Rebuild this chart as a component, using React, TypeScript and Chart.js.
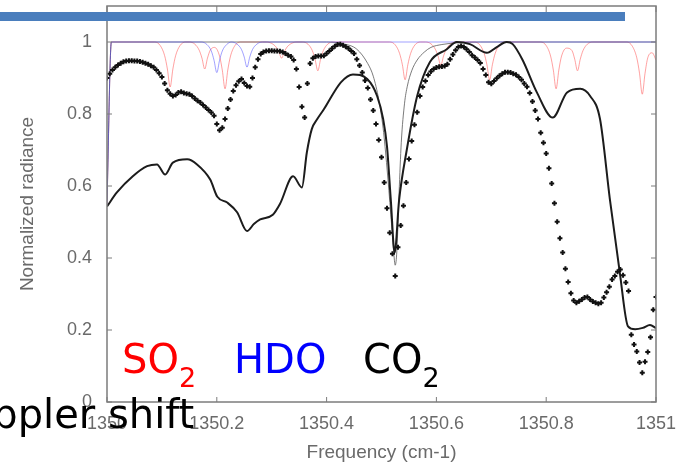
import React, { useEffect, useRef } from 'react';
import { Chart, registerables } from 'chart.js';

Chart.register(...registerables);

// Measured spectrum: one sample every 0.005 cm-1 from 1350.000 to 1351.000
const SAMPLE_START = 1350;
const SAMPLE_STEP = 0.005;
const measured = [
  0.900, 0.912, 0.922, 0.930, 0.936, 0.941, 0.945, 0.947, 0.948, 0.948,
  0.947, 0.947, 0.946, 0.944, 0.941, 0.938, 0.934, 0.930, 0.922, 0.913,
  0.903, 0.885, 0.866, 0.856, 0.850, 0.853, 0.860, 0.862, 0.858, 0.856,
  0.855, 0.850, 0.843, 0.837, 0.832, 0.825, 0.818, 0.811, 0.804, 0.795,
  0.772, 0.755, 0.762, 0.786, 0.815, 0.840, 0.864, 0.880, 0.891, 0.897,
  0.886, 0.878, 0.876, 0.900, 0.930, 0.952, 0.967, 0.972, 0.975, 0.976,
  0.976, 0.975, 0.975, 0.974, 0.972, 0.968, 0.963, 0.960, 0.950, 0.925,
  0.875, 0.820, 0.790, 0.885, 0.940, 0.955, 0.960, 0.961, 0.961, 0.962,
  0.968, 0.975, 0.982, 0.988, 0.993, 0.994, 0.991, 0.987, 0.982, 0.975,
  0.968, 0.952, 0.935, 0.915, 0.893, 0.872, 0.840, 0.810, 0.772, 0.728,
  0.680, 0.610, 0.538, 0.470, 0.412, 0.350, 0.430, 0.490, 0.545, 0.610,
  0.675, 0.725, 0.770, 0.805, 0.850, 0.875, 0.892, 0.908, 0.918, 0.925,
  0.929, 0.931, 0.932, 0.933, 0.938, 0.952, 0.965, 0.977, 0.986, 0.989,
  0.986, 0.980, 0.972, 0.963, 0.957, 0.950, 0.942, 0.925, 0.908, 0.888,
  0.884, 0.892, 0.899, 0.906, 0.912, 0.916, 0.916, 0.915, 0.912, 0.909,
  0.903, 0.895, 0.885, 0.876, 0.858, 0.835, 0.810, 0.786, 0.748, 0.720,
  0.690, 0.649, 0.607, 0.552, 0.501, 0.455, 0.415, 0.370, 0.333, 0.302,
  0.282, 0.276, 0.280, 0.285, 0.290, 0.292, 0.285, 0.279, 0.276, 0.273,
  0.276, 0.290, 0.305, 0.320, 0.340, 0.350, 0.362, 0.368, 0.352, 0.332,
  0.308, 0.187, 0.160, 0.140, 0.110, 0.081, 0.112, 0.139, 0.180, 0.256,
  0.292,
];

// Retrieved (fitted) radiance, thick solid curve
const fitFreq = [
  1350.000, 1350.018, 1350.047, 1350.073, 1350.091, 1350.106, 1350.120, 1350.146,
  1350.164, 1350.188, 1350.201, 1350.219, 1350.237, 1350.255, 1350.268, 1350.279,
  1350.302, 1350.315, 1350.339, 1350.355, 1350.364, 1350.373, 1350.383, 1350.395,
  1350.426, 1350.448, 1350.474, 1350.492, 1350.503, 1350.510, 1350.517, 1350.524,
  1350.532, 1350.546, 1350.565, 1350.588, 1350.619, 1350.637, 1350.661, 1350.692,
  1350.710, 1350.728, 1350.739, 1350.757, 1350.783, 1350.812, 1350.838, 1350.862,
  1350.880, 1350.898, 1350.916, 1350.934, 1350.949, 1350.962, 1350.976, 1350.989,
  1351.000,
];
const fitValue = [
  0.543, 0.582, 0.627, 0.655, 0.660, 0.632, 0.665, 0.674,
  0.660, 0.618, 0.570, 0.554, 0.527, 0.475, 0.495, 0.507,
  0.520, 0.550, 0.627, 0.596, 0.693, 0.758, 0.786, 0.813,
  0.888, 0.910, 0.897, 0.850, 0.786, 0.710, 0.560, 0.415,
  0.560, 0.700, 0.850, 0.944, 0.980, 1.000, 0.994, 0.970,
  0.986, 1.000, 0.994, 0.950, 0.860, 0.790, 0.860, 0.870,
  0.850, 0.786, 0.563, 0.360, 0.210, 0.202, 0.206, 0.214,
  0.205,
];

// CO2 transmittance, thin curve
const co2Freq = [
  1350.000, 1350.008, 1350.400, 1350.430, 1350.455, 1350.475, 1350.485, 1350.495,
  1350.503, 1350.510, 1350.517, 1350.522, 1350.525, 1350.528, 1350.532, 1350.536,
  1350.542, 1350.547, 1350.555, 1350.565, 1350.578, 1350.590, 1350.610, 1350.640,
  1350.680, 1351.000,
];
const co2Value = [
  0.560, 1.000, 1.000, 0.995, 0.980, 0.940, 0.905, 0.840,
  0.760, 0.650, 0.520, 0.420, 0.380, 0.420, 0.580, 0.720,
  0.830, 0.877, 0.920, 0.950, 0.972, 0.985, 0.993, 0.998,
  1.000, 1.000,
];

// HDO transmittance
const hdoFreq = [
  1350.000, 1350.008, 1350.172, 1350.182, 1350.190, 1350.195, 1350.200, 1350.205,
  1350.210, 1350.218, 1350.227, 1350.237, 1350.245, 1350.250, 1350.255, 1350.260,
  1350.265, 1350.273, 1350.283, 1351.000,
];
const hdoValue = [
  0.550, 1.000, 1.000, 0.993, 0.975, 0.949, 0.915, 0.949,
  0.975, 0.993, 1.000, 0.994, 0.979, 0.958, 0.930, 0.958,
  0.979, 0.994, 1.000, 1.000,
];

// SO2 transmittance
const so2Freq = [
  1350.000, 1350.008, 1350.087, 1350.097, 1350.105, 1350.110, 1350.115, 1350.120,
  1350.125, 1350.133, 1350.143, 1350.150, 1350.160, 1350.168, 1350.173, 1350.178,
  1350.183, 1350.188, 1350.196, 1350.205, 1350.210, 1350.215, 1350.220, 1350.225,
  1350.233, 1350.243, 1350.290, 1350.300, 1350.308, 1350.313, 1350.318, 1350.323,
  1350.328, 1350.336, 1350.346, 1350.356, 1350.366, 1350.374, 1350.379, 1350.384,
  1350.389, 1350.394, 1350.402, 1350.412, 1350.515, 1350.525, 1350.533, 1350.538,
  1350.543, 1350.548, 1350.553, 1350.561, 1350.571, 1350.580, 1350.590, 1350.598,
  1350.603, 1350.608, 1350.613, 1350.618, 1350.626, 1350.636, 1350.669, 1350.679,
  1350.687, 1350.692, 1350.697, 1350.702, 1350.707, 1350.715, 1350.725, 1350.790,
  1350.800, 1350.808, 1350.813, 1350.818, 1350.823, 1350.828, 1350.837, 1350.847,
  1350.852, 1350.857, 1350.862, 1350.867, 1350.875, 1350.885, 1350.947, 1350.957,
  1350.965, 1350.970, 1350.975, 1350.980, 1350.985, 1350.993, 1351.000,
];
const so2Value = [
  0.550, 1.000, 1.000, 0.990, 0.962, 0.925, 0.875, 0.925,
  0.962, 0.990, 1.000, 1.000, 0.994, 0.977, 0.955, 0.925,
  0.955, 0.977, 0.985, 0.961, 0.922, 0.870, 0.922, 0.961,
  0.990, 1.000, 1.000, 0.996, 0.986, 0.973, 0.955, 0.973,
  0.986, 0.996, 1.000, 1.000, 0.994, 0.976, 0.952, 0.920,
  0.952, 0.976, 0.994, 1.000, 1.000, 0.992, 0.968, 0.937,
  0.895, 0.937, 0.968, 0.992, 1.000, 1.000, 0.995, 0.980,
  0.961, 0.935, 0.961, 0.980, 0.995, 1.000, 1.000, 0.992,
  0.968, 0.937, 0.895, 0.937, 0.968, 0.992, 1.000, 1.000,
  0.990, 0.961, 0.922, 0.870, 0.922, 0.961, 0.983, 0.976,
  0.952, 0.920, 0.952, 0.976, 0.994, 1.000, 1.000, 0.988,
  0.956, 0.913, 0.855, 0.913, 0.956, 0.970, 0.950,
];

const xTickValues = [1350, 1350.2, 1350.4, 1350.6, 1350.8, 1351];
const xTickLabels = ['1350', '1350.2', '1350.4', '1350.6', '1350.8', '1351'];
const yTickValues = [0, 0.2, 0.4, 0.6, 0.8, 1];
const yTickLabels = ['0', '0.2', '0.4', '0.6', '0.8', '1'];

const TICK_FONT = { family: '"Liberation Sans", Arial, sans-serif', size: 18 };
const TITLE_FONT = { family: '"Liberation Sans", Arial, sans-serif', size: 19 };
const AXIS_COLOR = '#6a6a6a';
const SLIDE_FONT = '"DejaVu Sans", Verdana, sans-serif';

const pairs = (xs: number[], ys: number[]) => xs.map((x, i) => ({ x, y: ys[i] }));

// Gnuplot-style box with inward tick marks
const framePlugin = {
  id: 'frame',
  afterDatasetsDraw(chart: any) {
    const { ctx, chartArea, scales } = chart;
    const { left, right, top, bottom } = chartArea;
    ctx.save();
    ctx.strokeStyle = '#7c7c7c';
    ctx.lineWidth = 1.5;
    ctx.strokeRect(left, top, right - left, bottom - top);
    ctx.lineWidth = 1;
    ctx.beginPath();
    for (const v of yTickValues) {
      const py = scales.y.getPixelForValue(v);
      ctx.moveTo(left, py); ctx.lineTo(left + 5, py);
      ctx.moveTo(right - 5, py); ctx.lineTo(right, py);
    }
    for (const v of xTickValues) {
      const px = scales.x.getPixelForValue(v);
      ctx.moveTo(px, bottom); ctx.lineTo(px, bottom - 5);
      ctx.moveTo(px, top); ctx.lineTo(px, top + 6);
    }
    ctx.stroke();
    ctx.restore();
  },
};

// Slide decorations: title bar and species labels
const slidePlugin = {
  id: 'slide',
  afterDraw(chart: any) {
    const { ctx } = chart;
    ctx.save();
    ctx.fillStyle = '#4a7ebd';
    ctx.fillRect(0, 12, 625, 9);

    const withSub = (main: string, sub: string, x: number, color: string) => {
      ctx.fillStyle = color;
      ctx.font = `40px ${SLIDE_FONT}`;
      ctx.textBaseline = 'alphabetic';
      ctx.textAlign = 'left';
      ctx.fillText(main, x, 373);
      const w = ctx.measureText(main).width;
      if (sub) {
        ctx.font = `27px ${SLIDE_FONT}`;
        ctx.fillText(sub, x + w, 387);
      }
    };
    withSub('SO', '2', 122, '#ff0000');
    withSub('HDO', '', 234, '#0000ff');
    withSub('CO', '2', 363, '#000000');

    ctx.fillStyle = '#000000';
    ctx.font = `40px ${SLIDE_FONT}`;
    ctx.fillText('Doppler shift', -63, 428);
    ctx.restore();
  },
};

export default function App() {
  const canvasRef = useRef<HTMLCanvasElement | null>(null);

  useEffect(() => {
    const canvas = canvasRef.current;
    if (!canvas) return;
    const chart = new Chart(canvas, {
      type: 'line',
      data: {
        datasets: [
          {
            label: 'Measured',
            data: measured.map((v, i) => ({ x: SAMPLE_START + i * SAMPLE_STEP, y: v })),
            showLine: false,
            pointStyle: 'cross',
            pointRadius: 2.5,
            pointBorderWidth: 2,
            pointBorderColor: '#111111',
            pointBackgroundColor: '#111111',
            borderColor: '#111111',
          },
          {
            label: 'Fit',
            data: pairs(fitFreq, fitValue),
            borderColor: '#1c1c1c',
            borderWidth: 2,
            pointRadius: 0,
            cubicInterpolationMode: 'monotone',
          },
          {
            label: 'HDO',
            data: pairs(hdoFreq, hdoValue),
            borderColor: 'rgba(70, 70, 255, 0.5)',
            borderWidth: 1,
            pointRadius: 0,
            cubicInterpolationMode: 'monotone',
          },
          {
            label: 'CO2',
            data: pairs(co2Freq, co2Value),
            borderColor: 'rgba(90, 90, 90, 0.8)',
            borderWidth: 1,
            pointRadius: 0,
            cubicInterpolationMode: 'monotone',
          },
          {
            label: 'SO2',
            data: pairs(so2Freq, so2Value),
            borderColor: 'rgba(255, 70, 70, 0.5)',
            borderWidth: 1,
            pointRadius: 0,
            cubicInterpolationMode: 'monotone',
          },
        ],
      },
      options: {
        responsive: false,
        animation: false,
        events: [],
        layout: { padding: { left: 0, top: 5, right: 27, bottom: 0 } },
        plugins: { legend: { display: false }, tooltip: { enabled: false } },
        scales: {
          x: {
            type: 'linear',
            min: 1350,
            max: 1351,
            afterBuildTicks: (s: any) => { s.ticks = xTickValues.map((value) => ({ value })); },
            afterFit: (s: any) => { s.height = 60; s.paddingLeft = 0; s.paddingRight = 0; },
            grid: { display: false },
            border: { display: false },
            ticks: {
              font: TICK_FONT,
              color: AXIS_COLOR,
              padding: 3,
              maxRotation: 0,
              autoSkip: false,
              callback: (v: any) => xTickLabels[xTickValues.findIndex((t) => Math.abs(t - v) < 1e-6)] ?? '',
            },
            title: {
              display: true,
              text: 'Frequency (cm-1)',
              font: TITLE_FONT,
              color: AXIS_COLOR,
              padding: { top: 0, bottom: -2 },
            },
          },
          y: {
            type: 'linear',
            min: 0,
            max: 1.1,
            afterBuildTicks: (s: any) => { s.ticks = yTickValues.map((value) => ({ value })); },
            afterFit: (s: any) => { s.width = 107; s.paddingTop = 0; s.paddingBottom = 0; },
            grid: { display: false },
            border: { display: false },
            ticks: {
              font: TICK_FONT,
              color: AXIS_COLOR,
              padding: 7,
              callback: (v: any) => yTickLabels[yTickValues.findIndex((t) => Math.abs(t - v) < 1e-6)] ?? '',
            },
            title: {
              display: true,
              text: 'Normalized radiance',
              font: TITLE_FONT,
              color: AXIS_COLOR,
              padding: { top: 16, bottom: 0 },
            },
          },
        },
      },
      plugins: [framePlugin, slidePlugin],
    } as any);
    return () => chart.destroy();
  }, []);

  return (
    <div style={{ position: 'fixed', left: 0, top: 0, width: 683, height: 462, background: '#ffffff' }}>
      <canvas ref={canvasRef} width={683} height={462} style={{ width: 683, height: 462, display: 'block' }} />
    </div>
  );
}
